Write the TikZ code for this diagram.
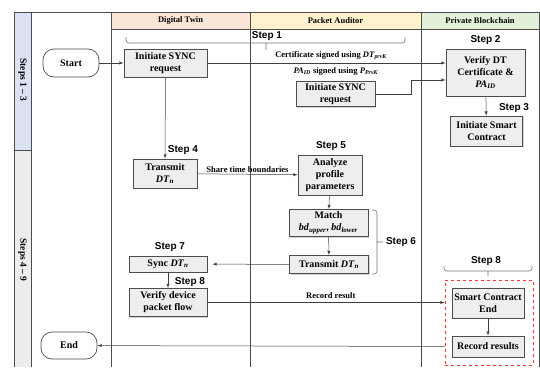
\documentclass[tikz,border=0pt]{standalone}
\usepackage{fontspec}
\setmainfont{Liberation Serif}
\newfontfamily\stepfont{Liberation Sans}
\usetikzlibrary{shadows}
\definecolor{dtpeach}{HTML}{FBE5D6}
\definecolor{payellow}{HTML}{FFF2CC}
\definecolor{pbgreen}{HTML}{E2F0D9}
\definecolor{laneblue}{HTML}{DAE3F3}
\definecolor{boxgray}{HTML}{EEEEEE}
\newcommand{\bsub}[2]{\textit{#1}\textsubscript{\textit{#2}}}

\begin{document}
\begin{tikzpicture}[x=1pt,y=-1pt,
    every node/.style={inner sep=1pt,font=\bfseries\fontsize{8.5}{10}\selectfont},
    lane/.style={draw=black!70,line width=0.7pt},
    lanelbl/.style={rotate=-90,font=\bfseries\fontsize{9.5}{11}\selectfont},
    box/.style={draw=black!70,fill=boxgray,align=center,inner sep=0pt,line width=0.7pt,
      drop shadow={shadow xshift=1pt,shadow yshift=-1pt,opacity=0.35},
      font=\bfseries\fontsize{10}{12}\selectfont},
    term/.style={draw=black!70,fill=white,rounded corners=11pt,line width=0.7pt,
      font=\bfseries\fontsize{10}{12}\selectfont,minimum width=56pt,minimum height=28pt},
    steplbl/.style={font=\stepfont\bfseries\fontsize{10}{12}\selectfont},
    arr/.style={->,>=latex,draw=black!75,line width=0.5pt},
    brc/.style={draw=black!55,line width=0.6pt,rounded corners=3pt}
  ]
  \useasboundingbox (0,0) rectangle (540,367);
  % lanes
  \fill[laneblue] (14,12) rectangle (31,150);
  \fill[black!7] (14,150) rectangle (31,367);
  \fill[dtpeach] (111,12) rectangle (250,29);
  \fill[payellow] (250,12) rectangle (421,29);
  \fill[pbgreen] (421,12) rectangle (539.5,29);
  \draw[lane] (14,367) -- (14,12) -- (539.5,12) -- (539.5,367);
  \draw[lane] (31,12) -- (31,367) (111,12) -- (111,367) (250,12) -- (250,367)
    (421,12) -- (421,367) (111,29) -- (539.5,29) (14,150) -- (31,150);
  \node (dthead) at (180.5,20.5) {Digital Twin};
  \node (pahead) at (335.5,20.5) {Packet Auditor};
  \node (pbhead) at (480,20.5) {Private Blockchain};
  \node[lanelbl] (lane13) at (22.5,80) {Steps 1 -- 3};
  \node[lanelbl] (lane49) at (22.5,260) {Steps 4 -- 9};

  % steps 1-3
  \node[term] (start) at (71,63) {Start};
  \node[box,minimum width=83pt,minimum height=28pt] (dtsync) at (165.5,63) {Initiate SYNC\\request};
  \node[box,minimum width=79pt,minimum height=25pt] (pasync) at (335.5,94) {Initiate SYNC\\request};
  \node[box,minimum width=79pt,minimum height=47pt] (verify) at (485.5,72.5) {Verify DT\\Certificate \&\\\bsub{PA}{ID}};
  \node[box,minimum width=72pt,minimum height=30pt] (smart) at (486.5,131) {Initiate Smart\\Contract};
  \node[steplbl] (step1) at (267,36) {Step 1};
  \node[steplbl] (step2) at (485.5,40) {Step 2};
  \node[steplbl] (step3) at (514,108) {Step 3};
  \node (pasig) at (336,71) {\bsub{PA}{ID} signed using \bsub{P}{PrvK}};
  \draw[brc] (126,37) -- (126,43) -- (405,43) -- (405,37) (266,43) -- (266,50);
  \draw[arr] (start) -- (dtsync);
  \draw[arr] (dtsync.east) -- (dtsync.east -| verify.west)
    node[pos=0.52,above=2pt] {Certificate signed using \bsub{DT}{prvK}};
  \draw[arr] (pasync.east) -- ++(36,0) |- ([yshift=-7.5pt]verify.west);
  \draw[arr] (verify) -- (smart);

  % steps 4-9
  \node[box,minimum width=64pt,minimum height=29pt] (dttrans) at (165,173.5) {Transmit\\\bsub{DT}{n}};
  \node[box,minimum width=64pt,minimum height=40pt] (analyze) at (330,175) {Analyze\\profile\\parameters};
  \node[box,minimum width=79pt,minimum height=27pt] (match) at (328.5,223) {Match\\\bsub{bd}{upper}, \bsub{bd}{lower}};
  \node[box,minimum width=79pt,minimum height=18pt] (patrans) at (329,264.5) {Transmit \bsub{DT}{n}};
  \node[box,minimum width=78pt,minimum height=16pt] (sync) at (168,264) {Sync \bsub{DT}{n}};
  \node[box,minimum width=78pt,minimum height=28pt] (verdev) at (168,302.5) {Verify device\\packet flow};
  \node[box,minimum width=72pt,minimum height=30pt] (scend) at (488,303) {Smart Contract\\End};
  \node[box,minimum width=72pt,minimum height=21pt] (recres) at (488,346.5) {Record results};
  \node[draw=red!80,dashed,line width=0.7pt,minimum width=88pt,minimum height=85pt] (recbox) at (489,322.5) {};
  \node[term,minimum height=27pt] (end) at (69,345.5) {End};
  \node[steplbl] (step4) at (183,150) {Step 4};
  \node[steplbl] (step5) at (331,146) {Step 5};
  \node[steplbl] (step6) at (401,242) {Step 6};
  \node[steplbl] (step7) at (170,247) {Step 7};
  \node[steplbl] (step8a) at (190,282) {Step 8};
  \node[steplbl] (step8b) at (486,261) {Step 8};
  \draw[brc] (372,210) -- (377,210) -- (377,274) -- (372,274) (377,242) -- (383,242);
  \draw[brc] (444,266) -- (444,271) -- (532,271) -- (532,266) (488,271) -- (488,276);
  \draw[arr] (dtsync) -- (dttrans);
  \draw[arr] (dttrans) -- (analyze) node[midway,above=0pt] {Share time boundaries};
  \draw[arr] (analyze) -- (match);
  \draw[arr] (match) -- (patrans);
  \draw[arr,shorten >=5pt] (patrans) -- (sync);
  \draw[arr] (sync) -- (verdev);
  \draw[arr] (verdev.east) -- (verdev.east -| recbox.west)
    node[pos=0.52,above=3pt] {Record result};
  \draw[arr] (scend) -- (recres);
  \draw[arr] (recbox.west |- recres) -- (end);
\end{tikzpicture}
\end{document}
